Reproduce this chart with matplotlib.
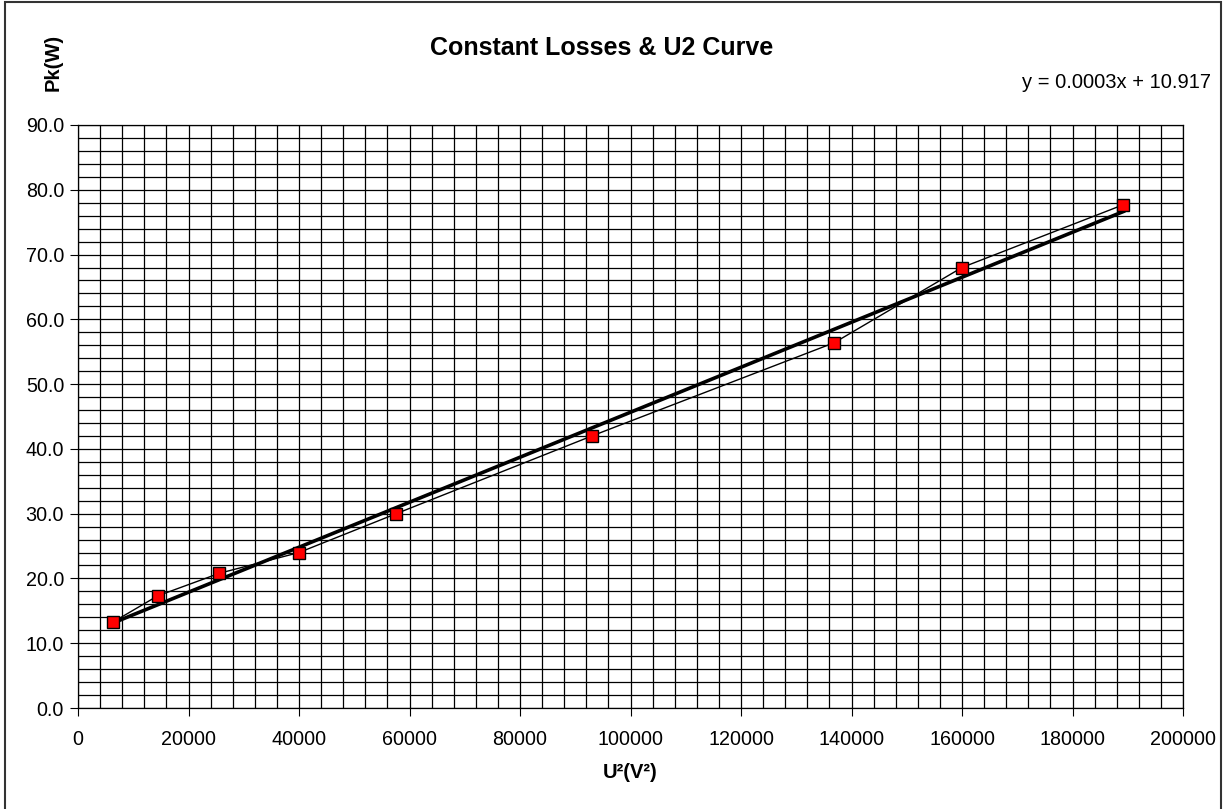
import numpy as np
import matplotlib.pyplot as plt
from matplotlib.patches import Rectangle
from matplotlib.ticker import MultipleLocator, FormatStrFormatter

plt.rcParams['font.family'] = ['Liberation Sans', 'DejaVu Sans']

# Messwerte: Quadrat der Spannung und Leerlaufverluste
u_sq = [6400, 14400, 25600, 40000, 57600, 93025, 136900, 160000, 189225]
pk = [13.3, 17.3, 20.8, 24.0, 30.0, 42.0, 56.4, 68.0, 77.7]

trend_label = 'y = 0.0003x + 10.917'

W, H = 1224, 809
fig = plt.figure(figsize=(W / 100, H / 100), dpi=100)
ax = fig.add_axes([78 / W, 1 - 708 / H, (1183 - 78) / W, (708 - 125) / H])

# lineare Trendlinie (kleinste Quadrate) über den Messbereich
k, d = np.polyfit(u_sq, pk, 1)
x_fit = np.array([min(u_sq), max(u_sq)])
ax.plot(x_fit, k * x_fit + d, color='black', linewidth=2.6, zorder=4)

ax.plot(u_sq, pk, color='black', linewidth=1.0, zorder=3)
ax.plot(u_sq, pk, linestyle='none', marker='s', markersize=8,
        markerfacecolor='#ff0000', markeredgecolor='black', markeredgewidth=1.0, zorder=5)

ax.set_xlim(0, 200000)
ax.set_ylim(0, 90)
ax.xaxis.set_major_locator(MultipleLocator(20000))
ax.xaxis.set_minor_locator(MultipleLocator(4000))
ax.yaxis.set_major_locator(MultipleLocator(10))
ax.yaxis.set_minor_locator(MultipleLocator(2))
ax.yaxis.set_major_formatter(FormatStrFormatter('%.1f'))

ax.grid(True, which='both', color='black', linewidth=0.9)
ax.set_axisbelow(True)
ax.tick_params(which='major', direction='out', length=6, width=0.8, labelsize=14.2, pad=4)
ax.tick_params(which='minor', length=0)
ax.tick_params(axis='x', pad=10)
for s in ax.spines.values():
    s.set_color('black')
    s.set_linewidth(0.9)

fig.text(602 / W, 1 - 48 / H, 'Constant Losses & U2 Curve', ha='center', va='center',
         fontsize=18, fontweight='bold')
fig.text(630 / W, 1 - 772 / H, 'U²(V²)', ha='center', va='center',
         fontsize=14.5, fontweight='bold')
fig.text(53 / W, 1 - 62 / H, 'Pk(W)', ha='center', va='center', rotation=90,
         fontsize=14.5, fontweight='bold')
fig.text(1211 / W, 1 - 82 / H, trend_label, ha='right', va='center', fontsize=14.5)

# Rahmen um das gesamte Diagramm
fig.patches.append(Rectangle((5 / W, -0.01), (1221 - 5) / W, 1.01 - 2 / H,
                             transform=fig.transFigure, fill=False,
                             edgecolor='#333333', linewidth=1.5))

fig.savefig('out.png', dpi=100)
